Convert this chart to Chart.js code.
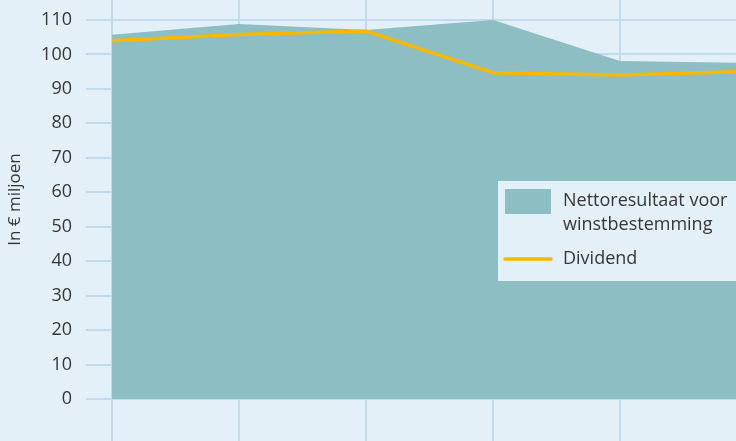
<!DOCTYPE html>
<html>
<head>
<meta charset="utf-8">
<script src="https://cdn.jsdelivr.net/npm/chart.js"></script>
<style>
  html, body { margin: 0; padding: 0; background: #e3f0f8; overflow: hidden; }
  #wrap { width: 736px; height: 441px; }
</style>
</head>
<body>
<div id="wrap"><canvas id="chart"></canvas></div>
<script>
// periods along the x axis (labels fall outside the cropped picture)
const periods = [0, 1, 2, 3, 4, 5];
const netResult = [105.7, 108.8, 107.1, 110.0, 98.1, 97.5];
const dividend = [104.0, 105.8, 106.8, 94.7, 94.0, 95.1];
const yTicks = [0, 10, 20, 30, 40, 50, 60, 70, 80, 90, 100, 110];

const BG = '#e3f0f8';
const AREA = '#8cbec3';
const GOLD = '#f8b700';
const GRID = '#bfdbed';
const TEXT = '#363636';
const FONT = "'Open Sans', 'Liberation Sans', Arial, sans-serif";

const toPoints = arr => arr.map((v, i) => ({ x: periods[i], y: v }));

// legend box drawn inside the plot, like the original
const legendBox = {
  id: 'legendBox',
  afterDraw(chart) {
    const ctx = chart.ctx;
    const ds = chart.data.datasets;
    ctx.save();
    ctx.fillStyle = BG;
    ctx.fillRect(498, 181, 260, 100);
    ctx.fillStyle = AREA;
    ctx.fillRect(505, 189, 46, 25);
    ctx.strokeStyle = GOLD;
    ctx.lineWidth = 3.5;
    ctx.lineCap = 'round';
    ctx.beginPath();
    ctx.moveTo(505, 259);
    ctx.lineTo(551, 259);
    ctx.stroke();
    ctx.fillStyle = TEXT;
    ctx.font = '18px ' + FONT;
    ctx.textBaseline = 'middle';
    const lines = ds[0].label.split('\n');
    ctx.fillText(lines[0], 563, 201);
    ctx.fillText(lines[1], 563, 225);
    ctx.fillText(ds[1].label, 563, 259);
    ctx.restore();
  }
};

new Chart(document.getElementById('chart'), {
  type: 'line',
  data: {
    datasets: [
      {
        label: 'Nettoresultaat voor\nwinstbestemming',
        data: toPoints(netResult),
        backgroundColor: AREA,
        borderWidth: 0,
        fill: 'origin',
        pointRadius: 0,
        order: 2
      },
      {
        label: 'Dividend',
        data: toPoints(dividend),
        borderColor: GOLD,
        borderWidth: 3.5,
        fill: false,
        pointRadius: 0,
        order: 1
      }
    ]
  },
  options: {
    responsive: true,
    maintainAspectRatio: false,
    animation: false,
    layout: { padding: 0 },
    plugins: { legend: { display: false }, tooltip: { enabled: false } },
    scales: {
      x: {
        type: 'linear',
        min: 0,
        max: 4.913,
        afterBuildTicks: s => { s.ticks = s.ticks.filter(t => Number.isInteger(t.value)); },
        afterFit: s => { s.height = 42; s.paddingLeft = 0; s.paddingRight = 0; },
        ticks: { display: false, stepSize: 1 },
        grid: { color: GRID, lineWidth: 2, tickLength: 42, drawTicks: true },
        border: { display: false }
      },
      y: {
        min: 0,
        max: 115.8,
        afterBuildTicks: s => { s.ticks = yTicks.map(v => ({ value: v })); },
        afterFit: s => { s.width = 112; s.paddingTop = 0; s.paddingBottom = 0; },
        ticks: { color: TEXT, font: { family: FONT, size: 18 }, padding: 14 },
        grid: { color: GRID, lineWidth: 2, tickLength: 26 },
        border: { display: false },
        title: {
          display: true,
          text: 'In € miljoen',
          color: TEXT,
          font: { family: FONT, size: 17 },
          padding: { top: 5, bottom: 0 }
        }
      }
    }
  },
  plugins: [legendBox]
});
</script>
</body>
</html>
